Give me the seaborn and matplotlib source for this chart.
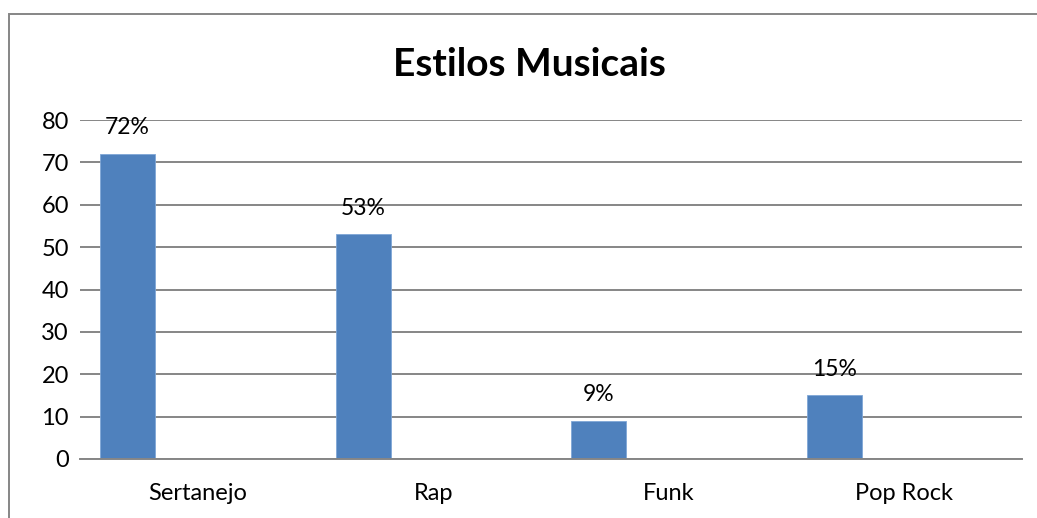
import pandas as pd
import seaborn as sns
import matplotlib.pyplot as plt
from matplotlib.patches import Rectangle

categorias = ['Sertanejo', 'Rap', 'Funk', 'Pop Rock']
valores = [72, 53, 9, 15]
rotulos = ['72%', '53%', '9%', '15%']
series = ['Série 1', 'Série 2']

# second series is empty, like the Excel chart it comes from (keeps the bars offset)
df = pd.DataFrame({
    'categoria': categorias * 2,
    'serie': [series[0]] * 4 + [series[1]] * 4,
    'valor': valores + [float('nan')] * 4,
})

sns.set_theme(style='white')
plt.rcParams['font.family'] = ['Lato', 'DejaVu Sans']

fig = plt.figure(figsize=(10.37, 5.18), dpi=100)
ax = fig.add_axes([0.0771, 0.1139, 0.9084, 0.6544])

sns.barplot(data=df, x='categoria', y='valor', hue='serie', hue_order=series,
            order=categorias, palette=['#4F81BD', '#C0504D'], width=1.19, gap=0.607,
            saturation=1, legend=False, ax=ax, errorbar=None,
            edgecolor='#7FA6D6', linewidth=0.6)

ax.set_ylim(0, 80)
ax.set_xlim(-0.5, 3.5)
ax.set_yticks(range(0, 81, 10))
ax.yaxis.grid(True, color='#868686', linewidth=1.4)
ax.set_axisbelow(True)
for s in ['left', 'right', 'top']:
    ax.spines[s].set_visible(False)
ax.spines['bottom'].set_color('#868686')
ax.spines['bottom'].set_linewidth(1.4)
ax.tick_params(axis='y', labelsize=17, pad=8, length=0, colors='black')
ax.tick_params(axis='x', labelsize=17, pad=17, length=0, colors='black')
ax.set_xlabel('')
ax.set_ylabel('')

bars = [p for p in ax.patches if p.get_height() > 0]
bars.sort(key=lambda p: p.get_x())
for p, txt in zip(bars, rotulos):
    ax.annotate(txt, (p.get_x() + p.get_width() / 2, p.get_height()),
                xytext=(0, 19), textcoords='offset points',
                ha='center', va='center', fontsize=16.5, color='black')

fig.text(0.511, 0.876, 'Estilos Musicais', ha='center', va='center',
         fontsize=28, fontweight='bold', color='black')

fig.patches.append(Rectangle((9 / 1037, -0.1), 1.2, 1 - 14 / 518 + 0.1,
                             transform=fig.transFigure, fill=False,
                             edgecolor='#868686', linewidth=1.4))

fig.savefig('out.png', dpi=100)
